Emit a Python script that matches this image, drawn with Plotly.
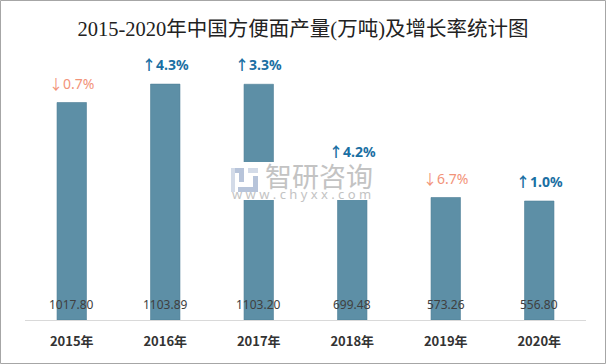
import plotly.graph_objects as go

years = ["2015年", "2016年", "2017年", "2018年", "2019年", "2020年"]
production = [1017.80, 1103.89, 1103.20, 699.48, 573.26, 556.80]
growth_labels = ["↓0.7%", "↑4.3%", "↑3.3%", "↑4.2%", "↓6.7%", "↑1.0%"]
growth_up = [False, True, True, True, False, True]

W, H = 606, 364
L, R, T, B = 25, 20, 64, 44
PW, PH = W - L - R, H - T - B


def px_x(px):
    return (px - L) / PW


def px_y(py):
    return (H - B - py) / PH


fig = go.Figure()
fig.add_trace(go.Bar(
    x=years, y=production,
    marker=dict(color="#5d8fa6", line=dict(color="#4f7f97", width=0.6)),
    width=0.315, hoverinfo="x+y",
))

annotations = []
for yr, v in zip(years, production):
    annotations.append(dict(
        x=yr, y=0, xref="x", yref="y", text=f"{v:.2f}", showarrow=False,
        yanchor="bottom", yshift=5,
        font=dict(family="Noto Sans, Open Sans", size=12, color="#404040"),
    ))
for yr, v, g, up in zip(years, production, growth_labels, growth_up):
    txt = f"<b>{g}</b>" if up else g
    annotations.append(dict(
        x=yr, y=v, xref="x", yref="y", text=txt, showarrow=False,
        yanchor="bottom", yshift=8,
        font=dict(family="Noto Sans, Noto Sans CJK SC", size=14,
                  color="#1a6fa3" if up else "#f29379"),
    ))

# watermark
annotations.append(dict(
    x=px_x(319), y=px_y(175), xref="paper", yref="paper", text="智研咨询",
    showarrow=False, xanchor="center", yanchor="middle",
    font=dict(family="Noto Sans CJK SC", size=27, color="#c3c3c3"),
))
annotations.append(dict(
    x=px_x(301), y=px_y(194), xref="paper", yref="paper",
    text="w w w . c h y x x . c o m",
    showarrow=False, xanchor="center", yanchor="middle",
    font=dict(family="Noto Sans", size=13, color="#c3c3c3"),
))

shapes = [
    # outer border
    dict(type="rect", xref="paper", yref="paper",
         x0=px_x(0.5), x1=px_x(605.5), y0=px_y(363.5), y1=px_y(0.5),
         line=dict(color="#a6a6a6", width=1), fillcolor="rgba(0,0,0,0)", layer="above"),
    # watermark white background
    dict(type="rect", xref="paper", yref="paper",
         x0=px_x(228), x1=px_x(378), y0=px_y(200), y1=px_y(162),
         line=dict(width=0), fillcolor="white", layer="above"),
    # logo approximation
    dict(type="rect", xref="paper", yref="paper",
         x0=px_x(231), x1=px_x(244), y0=px_y(173), y1=px_y(168),
         line=dict(width=0), fillcolor="#b7c4da", layer="above"),
    dict(type="rect", xref="paper", yref="paper",
         x0=px_x(231), x1=px_x(235), y0=px_y(192), y1=px_y(168),
         line=dict(width=0), fillcolor="#d3dbe8", layer="above"),
    dict(type="rect", xref="paper", yref="paper",
         x0=px_x(239), x1=px_x(244), y0=px_y(182), y1=px_y(173),
         line=dict(width=0), fillcolor="#b7c4da", layer="above"),
    dict(type="rect", xref="paper", yref="paper",
         x0=px_x(238), x1=px_x(258), y0=px_y(192), y1=px_y(187),
         line=dict(width=0), fillcolor="#b7c4da", layer="above"),
    dict(type="rect", xref="paper", yref="paper",
         x0=px_x(248), x1=px_x(258), y0=px_y(173), y1=px_y(168),
         line=dict(width=0), fillcolor="#d3dbe8", layer="above"),
    dict(type="rect", xref="paper", yref="paper",
         x0=px_x(253), x1=px_x(258), y0=px_y(187), y1=px_y(176),
         line=dict(width=0), fillcolor="#b7c4da", layer="above"),
]

fig.update_layout(
    width=W, height=H,
    margin=dict(l=L, r=R, t=T, b=B),
    paper_bgcolor="white", plot_bgcolor="white",
    showlegend=False,
    title=dict(
        text="2015-2020年中国方便面产量(万吨)及增长率统计图",
        x=0.5, xref="container", xanchor="center",
        y=1 - 29 / H, yref="container", yanchor="middle",
        font=dict(family="Liberation Serif, Noto Sans CJK SC", size=20.5, color="#222222"),
    ),
    xaxis=dict(
        showline=True, linecolor="#d9d9d9", linewidth=1,
        ticks="", showgrid=False, zeroline=False,
        tickfont=dict(family="Noto Sans CJK SC", size=13, color="#333333", weight="bold"),
        ticklabelstandoff=9,
    ),
    yaxis=dict(range=[0, 1198], visible=False, showgrid=False, zeroline=False),
    annotations=annotations,
    shapes=shapes,
)

fig.write_html(
    "out.html",
    config={"displayModeBar": False},
    post_script="document.body.style.margin='0';document.body.style.padding='0';",
)
